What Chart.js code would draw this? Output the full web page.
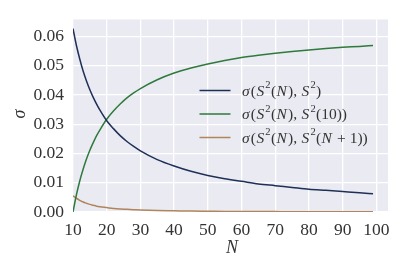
<!DOCTYPE html>
<html>
<head>
<meta charset="utf-8">
<script src="https://cdn.jsdelivr.net/npm/chart.js@4/dist/chart.umd.min.js"></script>
<style>
  html, body { margin: 0; padding: 0; background: #ffffff; }
  canvas { display: block; }
</style>
</head>
<body>
<canvas id="c" width="407" height="271"></canvas>
<script>
// ---- data ----
const N = [10, 11, 12, 13, 14, 15, 16, 17, 18, 20, 22, 24, 26, 28, 30, 35, 40, 45, 50, 55, 60, 65, 70, 75, 80, 85, 90, 95, 99];
const sigmaS2 = [0.0627, 0.0570, 0.0523, 0.0482, 0.0448, 0.0418, 0.0392, 0.0369, 0.0348, 0.0312, 0.0285, 0.0261, 0.0241, 0.0224, 0.0209, 0.0179, 0.0157, 0.0139, 0.0125, 0.0114, 0.0105, 0.0096, 0.0090, 0.0084, 0.0078, 0.0074, 0.0070, 0.0066, 0.0062];
const sigmaS2_10 = [0.0, 0.0058, 0.0106, 0.0146, 0.0181, 0.0211, 0.0237, 0.0261, 0.0281, 0.0317, 0.0345, 0.0369, 0.0390, 0.0407, 0.0422, 0.0452, 0.0475, 0.0492, 0.0506, 0.0518, 0.0528, 0.0536, 0.0543, 0.0549, 0.0554, 0.0559, 0.0563, 0.0566, 0.0569];
const sigmaS2_Np1 = [0.0055, 0.0047, 0.0040, 0.0034, 0.0030, 0.0026, 0.0023, 0.0020, 0.0018, 0.0015, 0.0012, 0.0010, 0.0009, 0.0008, 0.0007, 0.0005, 0.0004, 0.0003, 0.00025, 0.0002, 0.00017, 0.00015, 0.00013, 0.00011, 0.0001, 0.00009, 0.00008, 0.00007, 0.00006];
const xTicks = [10, 20, 30, 40, 50, 60, 70, 80, 90, 100];
const yTicks = [0.00, 0.01, 0.02, 0.03, 0.04, 0.05, 0.06];
const seriesNames = ["σ(S²(N), S²)", "σ(S²(N), S²(10))", "σ(S²(N), S²(N + 1))"];
const xTitle = "N";
const yTitle = "σ";

const COLORS = ["#1f3057", "#2e7a3c", "#b0855a"];
const FONT = "'Liberation Serif', 'DejaVu Serif', serif";
const TXT = "#333333";

function pts(ys) { return N.map((n, i) => ({ x: n, y: ys[i] })); }

// rich legend labels (italic variables, superscripts)
const legendRich = [
  [["σ", 1], ["("], ["S", 1], ["2", 0, 1], ["("], ["N", 1], ["), "], ["S", 1], ["2", 0, 1], [")"]],
  [["σ", 1], ["("], ["S", 1], ["2", 0, 1], ["("], ["N", 1], ["), "], ["S", 1], ["2", 0, 1], ["(10))"]],
  [["σ", 1], ["("], ["S", 1], ["2", 0, 1], ["("], ["N", 1], ["), "], ["S", 1], ["2", 0, 1], ["("], ["N", 1], [" + 1))"]]
];

function drawRich(ctx, segs, x, y, size) {
  let cx = x;
  for (const s of segs) {
    const italic = s[1] === 1, sup = s[2] === 1;
    const fs = sup ? size * 0.68 : size;
    ctx.font = (italic ? "italic " : "") + fs + "px " + FONT;
    ctx.fillText(s[0], cx, sup ? y - size * 0.38 : y);
    cx += ctx.measureText(s[0]).width + (italic ? 1.2 : 0.4);
  }
}

const overlay = {
  id: "overlay",
  beforeDraw(chart) {
    const { ctx, chartArea: a } = chart;
    ctx.save();
    ctx.fillStyle = "#eaeaf2";
    ctx.fillRect(a.left, a.top, a.right - a.left, a.bottom - a.top);
    ctx.restore();
  },
  afterDraw(chart) {
    const { ctx } = chart;
    ctx.save();
    // legend
    const rows = [90.5, 114, 137.5];
    rows.forEach((ry, i) => {
      ctx.strokeStyle = COLORS[i];
      ctx.lineWidth = 1.5;
      ctx.beginPath();
      ctx.moveTo(199.5, ry);
      ctx.lineTo(230.5, ry);
      ctx.stroke();
      ctx.fillStyle = TXT;
      ctx.textBaseline = "middle";
      ctx.textAlign = "left";
      drawRich(ctx, legendRich[i], 242, ry + 1, 15.5);
    });
    // axis titles
    ctx.fillStyle = TXT;
    ctx.textAlign = "center";
    ctx.textBaseline = "middle";
    ctx.font = "italic 18px " + FONT;
    ctx.fillText(xTitle, 232, 248);
    ctx.translate(20, 114);
    ctx.rotate(-Math.PI / 2);
    ctx.fillText(yTitle, 0, 0);
    ctx.restore();
  }
};

new Chart(document.getElementById("c"), {
  type: "line",
  data: {
    datasets: [
      { label: seriesNames[0], data: pts(sigmaS2), borderColor: COLORS[0] },
      { label: seriesNames[1], data: pts(sigmaS2_10), borderColor: COLORS[1] },
      { label: seriesNames[2], data: pts(sigmaS2_Np1), borderColor: COLORS[2] }
    ].map(d => Object.assign(d, { borderWidth: 1.5, pointRadius: 0, fill: false, cubicInterpolationMode: "monotone" }))
  },
  options: {
    responsive: false,
    animation: false,
    devicePixelRatio: 1,
    layout: { padding: { top: 18, right: 19, left: 0, bottom: 0 } },
    plugins: { legend: { display: false }, tooltip: { enabled: false } },
    scales: {
      x: {
        type: "linear",
        min: 10,
        max: 103.45,
        afterBuildTicks: s => { s.ticks = xTicks.map(v => ({ value: v })); },
        afterFit: s => { s.height = 59; },
        grid: { color: "#ffffff", lineWidth: 1.3, drawTicks: false },
        border: { display: false },
        ticks: { color: TXT, font: { family: FONT, size: 17.5 }, padding: 8, maxRotation: 0, autoSkip: false }
      },
      y: {
        min: 0,
        max: 0.0658,
        afterBuildTicks: s => { s.ticks = yTicks.map(v => ({ value: v })); },
        afterFit: s => { s.width = 73; },
        grid: { color: "#ffffff", lineWidth: 1.3, drawTicks: false },
        border: { display: false },
        ticks: { color: TXT, font: { family: FONT, size: 17.5 }, padding: 9, callback: v => Number(v).toFixed(2) }
      }
    }
  },
  plugins: [overlay]
});
</script>
</body>
</html>
